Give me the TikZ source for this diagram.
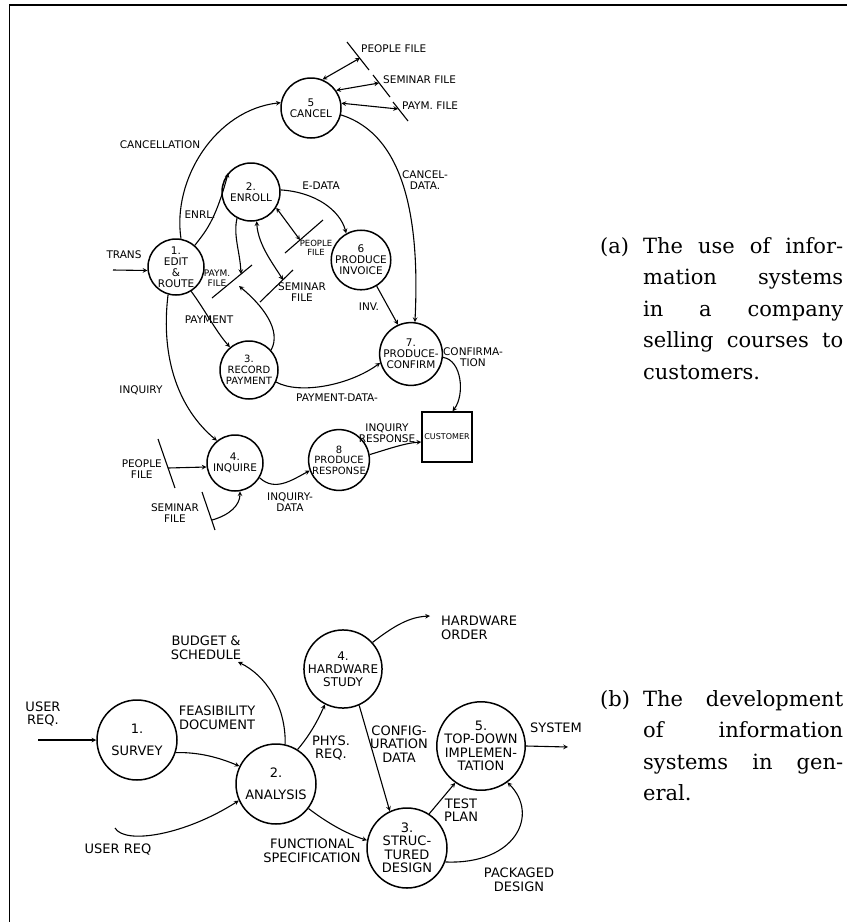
\documentclass[tikz,border=0pt]{standalone}
\usepackage{fontspec}
\setmainfont{DejaVu Serif}
\setsansfont{DejaVu Sans}
\usepackage{tikz}
\usetikzlibrary{arrows}
\tikzstyle{arrow} = [line width=1.1pt,->,>=stealth]
\tikzstyle{both} = [line width=1.1pt,<->,>=stealth]
\tikzstyle{store} = [line width=1.1pt]
\tikzstyle{proc} = [circle, draw, line width=1.5pt, minimum size=58pt, inner sep=0pt, align=center, font=\sffamily\fontsize{10.5}{11}\selectfont]
\tikzstyle{bigproc} = [proc, minimum size=80pt, font=\sffamily\fontsize{13}{13.5}\selectfont]
\tikzstyle{lbl} = [align=center, inner sep=1pt, font=\sffamily\fontsize{10.5}{11}\selectfont]
\tikzstyle{biglbl} = [lbl, font=\sffamily\fontsize{13}{13.5}\selectfont]
\tikzstyle{caption} = [anchor=base west, inner sep=0pt, font=\fontsize{21}{31.5}\selectfont]

\begin{document}
\begin{tikzpicture}[x=1pt, y=-1pt]
\useasboundingbox (0,0) rectangle (847,922);
\draw [line width=1.3pt] (9.5,922) -- (9.5,5) -- (847,5);

% (a) courses
\node [proc, minimum size=60pt] (cancel) at (311,108) {5\\CANCEL};
\node [proc] (enroll) at (251,192) {2.\\ENROLL};
\node [proc, minimum size=56pt] (edit) at (176,267) {1.\\EDIT\\\&\\ROUTE};
\node [proc, font=\sffamily\fontsize{10}{11}\selectfont] (record) at (249,370) {3.\\RECORD\\PAYMENT};
\node [proc] (invoice) at (361,260) {6\\PRODUCE\\INVOICE};
\node [proc] (confirm) at (411,354) {7.\\PRODUCE-\\CONFIRM};
\node [proc, minimum size=56pt] (inquire) at (235,463) {4.\\INQUIRE};
\node [proc, minimum size=56pt, font=\sffamily\fontsize{10}{10.5}\selectfont] (response) at (339,460) {8\\PRODUCE\\RESPONSE};
\node [draw, line width=1.5pt, minimum width=50pt, minimum height=50pt, inner sep=0pt, font=\sffamily\fontsize{8}{9}\selectfont] (customer) at (447,437) {CUSTOMER};

% files
\draw [store] (347,42) -- (369,70);
\draw [store] (373,75) -- (390,97);
\draw [store] (393,102) -- (408,121);
\draw [store] (285,253) -- (323,220);
\draw [store] (212,298) -- (252,265);
\draw [store] (260,302) -- (293,270);
\draw [store] (158,439) -- (175,488);
\draw [store] (202,492) -- (215,530);

\coordinate (fpeople) at (360,58);
\coordinate (fseminar) at (379,83);
\coordinate (fpaym) at (398,109);
\coordinate (mpeople) at (300,240);
\coordinate (mpaym) at (241,274);
\coordinate (mpaymin) at (239,286);
\coordinate (mseminar) at (283,280);
\coordinate (lpeople) at (168,468);
\coordinate (lseminar) at (212,520);
\coordinate (transin) at (113,270);

\node [lbl, anchor=west] (fpeoplel) at (360,49) {PEOPLE FILE};
\node [lbl, anchor=west] (fseminarl) at (382,80) {SEMINAR FILE};
\node [lbl, anchor=west] (fpayml) at (401,106) {PAYM. FILE};
\node [lbl, font=\sffamily\fontsize{8.5}{9}\selectfont] (mpeoplel) at (316,248) {PEOPLE\\FILE};
\node [lbl, font=\sffamily\fontsize{9}{9.5}\selectfont] (mpayml) at (217,278) {PAYM.\\FILE};
\node [lbl] (mseminarl) at (302,292) {SEMINAR\\FILE};
\node [lbl, anchor=east] (lpeoplel) at (163,469) {PEOPLE\\FILE};
\node [lbl, anchor=east] (lseminarl) at (200,513) {SEMINAR\\FILE};

% flow labels
\node [lbl] (cancl) at (160,145) {CANCELLATION};
\node [lbl] (cdatal) at (425,180) {CANCEL-\\DATA.};
\node [lbl] (edatal) at (321,186) {E-DATA};
\node [lbl] (enrll) at (200,215) {ENRL.};
\node [lbl] (transl) at (124,255) {TRANS};
\node [lbl] (paymentl) at (209,320) {PAYMENT};
\node [lbl] (invl) at (369,307) {INV.};
\node [lbl] (pdatal) at (337,398) {PAYMENT-DATA-};
\node [lbl] (confl) at (473,357) {CONFIRMA-\\TION};
\node [lbl] (inquiryl) at (141,390) {INQUIRY};
\node [lbl] (idatal) at (290,502) {INQUIRY-\\DATA};
\node [lbl] (irespl) at (387,433) {INQUIRY\\RESPONSE};

\draw [both] (cancel.68) to (fpeople);
\draw [both] (cancel.35) to (fseminar);
\draw [both] (cancel.9) to (fpaym);
\draw [arrow] (edit.80) .. controls (172,180) and (215,110) .. (cancel.170);
\draw [arrow] (cancel.347) .. controls (405,135) and (420,220) .. (confirm.83);

\draw [arrow] (transin) to (edit.187);
\draw [arrow] (edit.49) .. controls (205,232) and (215,222) .. (enroll.140);
\draw [arrow] (edit.302) .. controls (205,310) and (215,330) .. (record.130);
\draw [arrow] (edit.254) .. controls (160,360) and (180,410) .. (inquire.129);

\draw [arrow] (enroll.4) .. controls (315,192) and (340,210) .. (invoice.119);
\draw [both] (enroll.328) to (mpeople);
\draw [both] (enroll.281) .. controls (258,245) and (274,265) .. (mseminar);
\draw [arrow] (enroll.242) .. controls (233,235) and (240,252) .. (mpaym);
\draw [arrow] (record.42) .. controls (282,330) and (262,305) .. (mpaymin);

\draw [arrow] (record.336) .. controls (300,395) and (350,385) .. (confirm.196);
\draw [arrow] (invoice.301) to (confirm.114);
\draw [arrow] (confirm.354) .. controls (462,360) and (465,395) .. (customer.78);

\draw [arrow] (lpeople) to (inquire.188);
\draw [arrow] (lseminar) .. controls (230,515) and (240,505) .. (inquire.280);
\draw [arrow] (inquire.329) .. controls (275,492) and (292,480) .. (response.200);
\draw [arrow] (response.10) .. controls (385,450) and (405,443) .. (customer.191);

% (b) development
\node [bigproc] (survey) at (137,740) {1.\\[8pt]SURVEY};
\node [bigproc] (analysis) at (276,784) {2.\\[8pt]ANALYSIS};
\node [bigproc, minimum size=76pt, font=\sffamily\fontsize{12}{13}\selectfont] (hardware) at (343,669) {4.\\HARDWARE\\STUDY};
\node [bigproc] (design) at (407,848) {3.\\STRUC-\\TURED\\DESIGN};
\node [bigproc, minimum size=82pt] (topdown) at (481,746) {5.\\TOP-DOWN\\IMPLEMEN-\\TATION};

\coordinate (userin) at (38,740);
\coordinate (ureqin) at (115,828);
\coordinate (budgetout) at (238,662);
\coordinate (orderout) at (430,616);
\coordinate (systemout) at (568,747);

\node [biglbl] (userl) at (43,714) {USER\\REQ.};
\node [biglbl] (feasl) at (217,718) {FEASIBILITY\\DOCUMENT};
\node [biglbl] (ureql) at (118,850) {USER REQ};
\node [biglbl] (budgetl) at (206,648) {BUDGET \&\\SCHEDULE};
\node [biglbl] (physl) at (331,748) {PHYS.\\REQ.};
\node [biglbl] (configl) at (399,744) {CONFIG-\\URATION\\DATA};
\node [biglbl, anchor=west, align=left] (orderl) at (440,628) {HARDWARE\\ORDER};
\node [biglbl] (funcl) at (312,851) {FUNCTIONAL\\SPECIFICATION};
\node [biglbl] (testl) at (461,810) {TEST\\PLAN};
\node [biglbl] (packl) at (519,880) {PACKAGED\\DESIGN};
\node [biglbl] (systeml) at (556,728) {SYSTEM};

\draw [arrow] (userin) to (survey.west);
\draw [arrow] (survey.342) .. controls (200,752) and (220,758) .. (analysis.154);
\draw [arrow] (ureqin) .. controls (125,845) and (185,835) .. (analysis.204);
\draw [arrow] (analysis.77) .. controls (286,705) and (265,675) .. (budgetout);
\draw [arrow] (analysis.58) .. controls (310,735) and (318,720) .. (hardware.243);
\draw [arrow] (analysis.323) .. controls (330,825) and (350,835) .. (design.169);
\draw [arrow] (hardware.42) .. controls (395,625) and (410,617) .. (orderout);
\draw [arrow] (hardware.294) to (design.115);
\draw [arrow] (design.57) to (topdown.235);
\draw [arrow] (design.340) .. controls (515,865) and (540,815) .. (topdown.306);
\draw [arrow] (topdown.east) to (systemout);

% captions
\node [caption] (capa) at (600,253) {\makebox[43pt][l]{(a)}\parbox[t]{200pt}{%
\hbox to 200pt{The\hfill use\hfill of\hfill infor-}%
\hbox to 200pt{mation\hfill systems}%
\hbox to 200pt{in\hfill a\hfill company}%
\hbox to 200pt{selling\hfill courses\hfill to}%
\hbox{customers.}}};
\node [caption] (capb) at (600,706) {\makebox[43pt][l]{(b)}\parbox[t]{200pt}{%
\hbox to 200pt{The\hfill development}%
\hbox to 200pt{of\hfill information}%
\hbox to 200pt{systems\hfill in\hfill gen-}%
\hbox{eral.}}};
\end{tikzpicture}
\end{document}
